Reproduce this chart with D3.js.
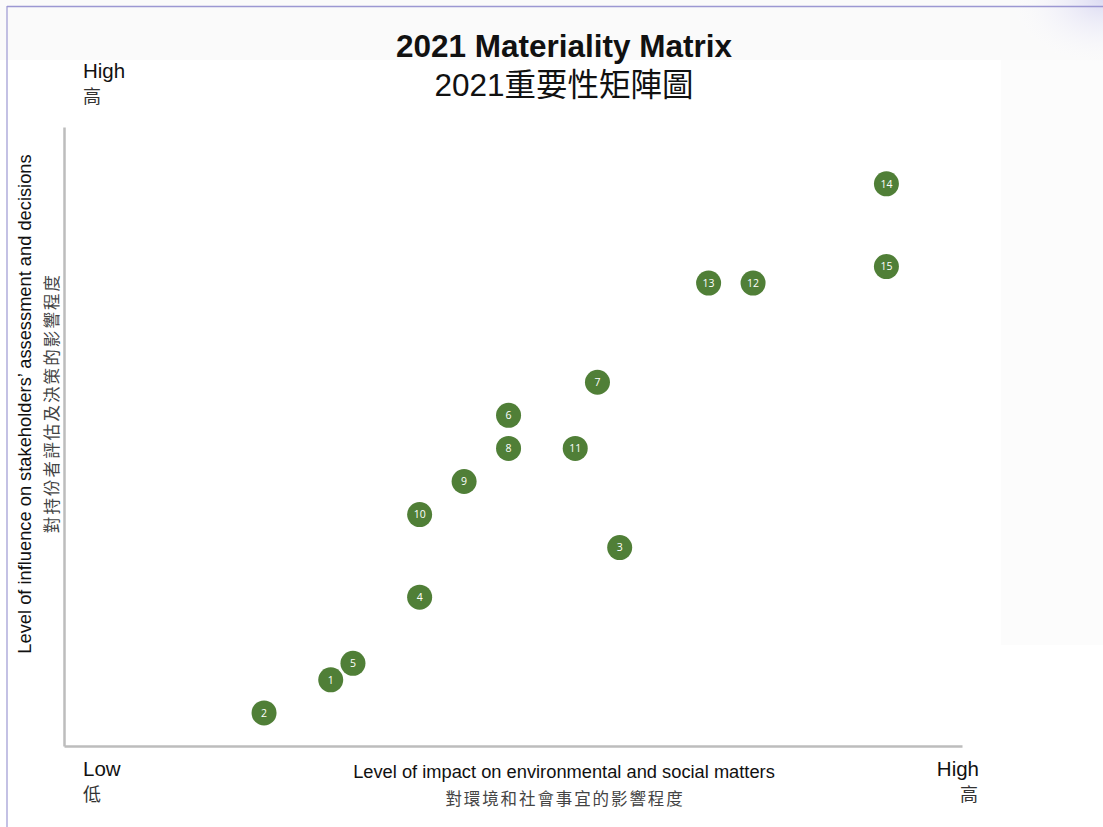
<!DOCTYPE html>
<html>
<head>
<meta charset="utf-8">
<script src="https://cdn.jsdelivr.net/npm/d3@7"></script>
<style>
  html, body { margin: 0; padding: 0; background: #fff; }
  svg { display: block; }
</style>
</head>
<body>
<svg id="chart" width="1103" height="827"></svg>
<script>
// Issue numbers and their scores (impact on E&S matters, influence on stakeholders)
const issueIds   = [1, 2, 3, 4, 5, 6, 7, 8, 9, 10, 11, 12, 13, 14, 15];
const impact     = [3.0, 2.25, 6.25, 4.0, 3.25, 5.0, 6.0, 5.0, 4.5, 4.0, 5.75, 7.75, 7.25, 9.25, 9.25];
const influence  = [1.0, 0.5, 3.0, 2.25, 1.25, 5.0, 5.5, 4.5, 4.0, 3.5, 4.5, 7.0, 7.0, 8.5, 7.25];

const titleLines = ["2021 Materiality Matrix", "2021重要性矩陣圖"];
const xTitle     = ["Level of impact on environmental and social matters", "對環境和社會事宜的影響程度"];
const yTitle     = ["Level of influence on stakeholders’ assessment and decisions", "對持份者評估及決策的影響程度"];
const endLabels  = { low: ["Low", "低"], high: ["High", "高"] };

const points = issueIds.map((id, i) => ({ id, x: impact[i], y: influence[i] }));

const svg = d3.select("#chart");
const W = 1103, H = 827;
const plot = { left: 64, right: 962, top: 127, bottom: 746 };

// page background
const defs = svg.append("defs");
const glow = defs.append("radialGradient").attr("id", "cornerGlow")
  .attr("cx", "100%").attr("cy", "0%").attr("r", "100%");
glow.append("stop").attr("offset", "0%").attr("stop-color", "#d9d8f2").attr("stop-opacity", 0.9);
glow.append("stop").attr("offset", "100%").attr("stop-color", "#ffffff").attr("stop-opacity", 0);

svg.append("rect").attr("width", W).attr("height", H).attr("fill", "#ffffff");
svg.append("rect").attr("x", 0).attr("y", 0).attr("width", W).attr("height", 60).attr("fill", "#fafafa");
svg.append("rect").attr("x", 1001).attr("y", 60).attr("width", W - 1001).attr("height", 585).attr("fill", "#fcfcfc");
svg.append("rect").attr("x", 1003).attr("y", 0).attr("width", 100).attr("height", 70).attr("fill", "url(#cornerGlow)");

// frame lines
svg.append("line").attr("x1", 7).attr("x2", W).attr("y1", 6.5).attr("y2", 6.5)
  .attr("stroke", "#9c98d2").attr("stroke-width", 1.5);
svg.append("line").attr("x1", 7).attr("x2", 7).attr("y1", 6).attr("y2", H)
  .attr("stroke", "#9c98d2").attr("stroke-width", 1.2);

// scales
const x = d3.scaleLinear().domain([0, 10.1]).range([plot.left, plot.right]);
const y = d3.scaleLinear().domain([0, 9.36]).range([plot.bottom, plot.top]);

// axes without ticks
const xAxis = d3.axisBottom(x).tickValues([]).tickSizeOuter(0);
const yAxis = d3.axisLeft(y).tickValues([]).tickSizeOuter(0);

svg.append("g").attr("transform", `translate(0,${plot.bottom})`).call(xAxis)
  .select(".domain").attr("stroke", "#bdbdbd").attr("stroke-width", 2.5);
svg.append("g").attr("transform", `translate(${plot.left},0)`).call(yAxis)
  .select(".domain").attr("stroke", "#bdbdbd").attr("stroke-width", 2.5);

const font = "'Liberation Sans', Arial, Helvetica, sans-serif";
const cjk = "'Noto Sans CJK TC', 'Noto Sans CJK SC', sans-serif";

// title
svg.append("text").attr("x", 564).attr("y", 57).attr("text-anchor", "middle")
  .attr("font-family", font).attr("font-weight", "bold").attr("font-size", 31.5)
  .attr("fill", "#111").text(titleLines[0]);
svg.append("text").attr("x", 564).attr("y", 96).attr("text-anchor", "middle")
  .attr("font-family", font + ", " + cjk).attr("font-size", 31.5)
  .attr("fill", "#111").text(titleLines[1]);

// high/low markers
svg.append("text").attr("x", 83).attr("y", 78).attr("font-family", font)
  .attr("font-size", 20.5).attr("fill", "#111").text(endLabels.high[0]);
svg.append("text").attr("x", 83).attr("y", 103).attr("font-family", cjk)
  .attr("font-size", 18).attr("fill", "#333").text(endLabels.high[1]);

svg.append("text").attr("x", 83).attr("y", 776).attr("font-family", font)
  .attr("font-size", 20.5).attr("fill", "#111").text(endLabels.low[0]);
svg.append("text").attr("x", 83).attr("y", 801).attr("font-family", cjk)
  .attr("font-size", 18).attr("fill", "#333").text(endLabels.low[1]);

svg.append("text").attr("x", 979).attr("y", 776).attr("text-anchor", "end").attr("font-family", font)
  .attr("font-size", 20.5).attr("fill", "#111").text(endLabels.high[0]);
svg.append("text").attr("x", 978).attr("y", 801).attr("text-anchor", "end").attr("font-family", cjk)
  .attr("font-size", 18).attr("fill", "#333").text(endLabels.high[1]);

// x-axis title
svg.append("text").attr("x", 564).attr("y", 778).attr("text-anchor", "middle")
  .attr("font-family", font).attr("font-size", 18.3).attr("fill", "#111").text(xTitle[0]);
svg.append("text").attr("x", 565).attr("y", 805).attr("text-anchor", "middle")
  .attr("font-family", cjk).attr("font-size", 16.5).attr("letter-spacing", 1.9)
  .attr("fill", "#444").text(xTitle[1]);

// y-axis title (rotated)
svg.append("text").attr("transform", "translate(31,404) rotate(-90)").attr("text-anchor", "middle")
  .attr("font-family", font).attr("font-size", 18.3).attr("fill", "#111").text(yTitle[0]);
svg.append("text").attr("transform", "translate(58,403) rotate(-90)").attr("text-anchor", "middle")
  .attr("font-family", cjk).attr("font-size", 16.5).attr("letter-spacing", 2.1)
  .attr("fill", "#444").text(yTitle[1]);

// issue markers
const g = svg.append("g").selectAll("g").data(points).join("g")
  .attr("transform", d => `translate(${x(d.x)},${y(d.y)})`);
g.append("circle").attr("r", 12.5).attr("fill", "#507f37");
g.append("text").attr("text-anchor", "middle").attr("dy", "0.36em")
  .attr("font-family", "'Open Sans', 'Noto Sans', sans-serif").attr("font-size", 10.5)
  .attr("fill", "#ffffff").text(d => d.id);
</script>
</body>
</html>
